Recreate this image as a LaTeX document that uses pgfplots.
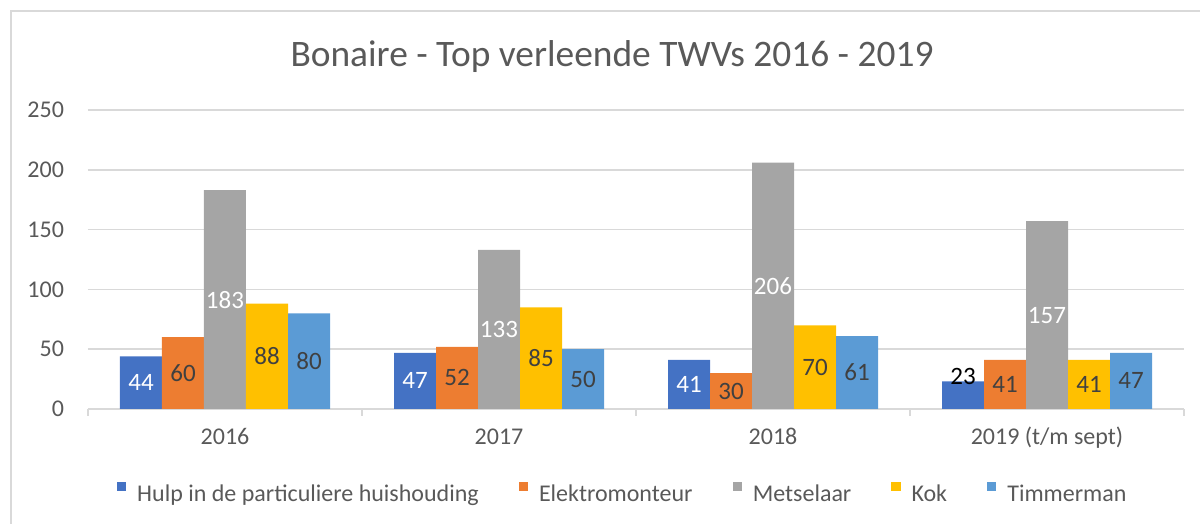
\documentclass[border=0pt]{standalone}
\usepackage{pgfplots}
\pgfplotsset{compat=1.18}
\usepackage{pgfplotstable}
\usepackage{fontspec}
\setmainfont{Carlito}
\definecolor{cA}{HTML}{4472C4}
\definecolor{cB}{HTML}{ED7D31}
\definecolor{cC}{HTML}{A5A5A5}
\definecolor{cD}{HTML}{FFC000}
\definecolor{cE}{HTML}{5B9BD5}
\definecolor{txt}{HTML}{595959}
\definecolor{lbl}{HTML}{404040}
\definecolor{grd}{HTML}{D9D9D9}

\pgfplotstableread{
x y ex cw
0 44 0 0
1 47 0 0
2 41 0 0
3 23 16 100
}\hulp
\pgfplotstableread{
x y ex cw
0 60 0 0
1 52 0 0
2 30 0 0
3 41 0 0
}\elek
\pgfplotstableread{
x y ex cw
0 183 0 0
1 133 0 0
2 206 0 0
3 157 0 0
}\mets
\pgfplotstableread{
x y ex cw
0 88 0 0
1 85 0 0
2 70 0 0
3 41 0 0
}\kok
\pgfplotstableread{
x y ex cw
0 80 0 0
1 50 0 0
2 61 0 0
3 47 0 0
}\timm

\begin{document}
\begin{tikzpicture}
\path[use as bounding box] (0,0) rectangle (600pt,262pt);
\draw[grd, line width=0.75pt] (5.5pt,0) -- (5.5pt,256.5pt) -- (600pt,256.5pt);
\node[text=txt, font=\fontsize{18.7}{22}\selectfont] at (306pt,233.5pt) {Bonaire - Top verleende TWVs 2016 - 2019};
\begin{axis}[
  at={(44pt,57.5pt)}, anchor=south west,
  scale only axis, width=548pt, height=149.5pt,
  ybar=0pt, bar width=21pt,
  xmin=-0.5, xmax=3.5, ymin=0, ymax=250,
  enlarge x limits=false,
  clip=false,
  axis x line*=bottom, axis y line*=left,
  x axis line style={draw=grd, line width=0.75pt},
  y axis line style={draw=none},
  xtick={0,1,2,3},
  xticklabels={2016,2017,2018,2019 (t/m sept)},
  minor xtick={-0.5,0.5,1.5,2.5,3.5},
  major x tick style={draw=none},
  minor x tick style={draw=grd, line width=0.75pt},
  minor tick length=3.5pt,
  tick align=outside,
  ytick={0,50,100,150,200,250},
  ytick style={draw=none},
  ymajorgrids,
  grid style={draw=grd, line width=0.75pt},
  major tick length=0pt,
  /pgf/number format/assume math mode=true,
  xticklabel style={anchor=base, yshift=-17.9pt, text=txt, font=\fontsize{12}{14}\selectfont},
  yticklabel style={anchor=east, xshift=-8.5pt, text=txt, font=\fontsize{12}{14}\selectfont},
  legend columns=5,
  legend cell align=left,
  legend style={at={(0.487,-0.281)}, anchor=center, draw=none, fill=none,
     font=\fontsize{12}{14}\selectfont, text=txt,
     nodes={inner sep=0pt},
     /tikz/every odd column/.append style={column sep=5.5pt},
     /tikz/every even column/.append style={column sep=20pt}},
  legend image code/.code={\fill[#1] (0pt,1.6pt) rectangle (4.6pt,6.2pt);},
  lab/.style={
    nodes near coords,
    visualization depends on={y \as \rawy},
    visualization depends on={\thisrow{ex} \as \ex},
    visualization depends on={\thisrow{cw} \as \cw},
    every node near coord/.append style={anchor=center, text=#1,
       font=\fontsize{12.5}{14}\selectfont,
       shift={(axis direction cs:0,-\rawy/2+\ex)}}},
]
\addplot[fill=cA, draw=none, lab={black!\cw!white}] table[x=x,y=y] {\hulp};
\addplot[fill=cB, draw=none, lab=lbl] table[x=x,y=y] {\elek};
\addplot[fill=cC, draw=none, lab=white] table[x=x,y=y] {\mets};
\addplot[fill=cD, draw=none, lab=lbl] table[x=x,y=y] {\kok};
\addplot[fill=cE, draw=none, lab=lbl] table[x=x,y=y] {\timm};
\legend{Hulp in de particuliere huishouding, Elektromonteur, Metselaar, Kok, Timmerman}
\end{axis}
\end{tikzpicture}
\end{document}
